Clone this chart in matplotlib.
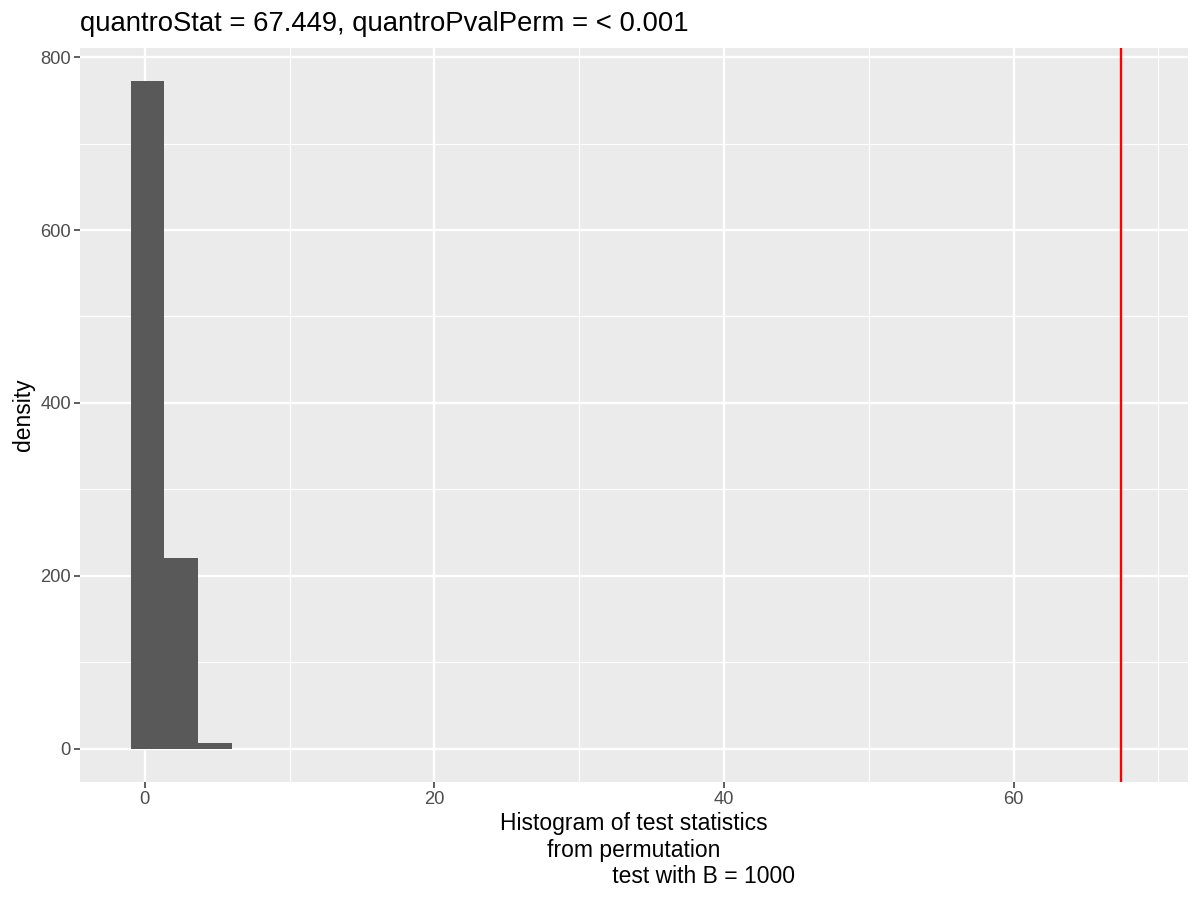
import matplotlib
matplotlib.use('Agg')
import matplotlib.pyplot as plt
import numpy as np

# histogram of permutation test statistics (counts)
bin_edges = [-0.95, 1.33, 3.68, 6.03]
counts = [772, 221, 7]
quantro_stat = 67.449
title = "quantroStat = 67.449, quantroPvalPerm = < 0.001"
xticks = [0, 20, 40, 60]
yticks = [0, 200, 400, 600, 800]

plt.rcParams['font.family'] = ['Liberation Sans', 'DejaVu Sans']

fig = plt.figure(figsize=(12, 9), dpi=100)
ax = fig.add_axes([80 / 1200, 118 / 900, 1108 / 1200, 734 / 900])
ax.set_facecolor('#EBEBEB')

widths = np.diff(bin_edges)
ax.bar(bin_edges[:-1], counts, width=widths, align='edge', color='#595959',
       linewidth=0, zorder=3)
ax.axvline(quantro_stat, color='red', linewidth=1.7, zorder=4)

ax.set_xlim(-4.47, 72.05)
ax.set_ylim(-38.6, 810.6)
ax.set_xticks(xticks)
ax.set_yticks(yticks)
ax.set_xticks([10, 30, 50, 70], minor=True)
ax.set_yticks([100, 300, 500, 700], minor=True)
ax.grid(which='major', color='white', linewidth=1.7, zorder=1)
ax.grid(which='minor', color='white', linewidth=0.85, zorder=1)
ax.set_axisbelow(True)

for s in ax.spines.values():
    s.set_visible(False)
ax.tick_params(which='major', length=4, width=1.1, color='#333333',
               labelsize=13.2, labelcolor='#4D4D4D', pad=2.5)
ax.tick_params(which='minor', length=0)

ax.set_ylabel('density', fontsize=16.5, labelpad=4)
ax.set_xlabel("Histogram of test statistics\nfrom permutation\n"
              + " " * 22 + "test with B = 1000", fontsize=16.5, labelpad=3,
              linespacing=1.2)
fig.text(80 / 1200, 1 - 31 / 900, title, fontsize=19.8, ha='left', va='baseline')

fig.savefig('out.png', dpi=100)
